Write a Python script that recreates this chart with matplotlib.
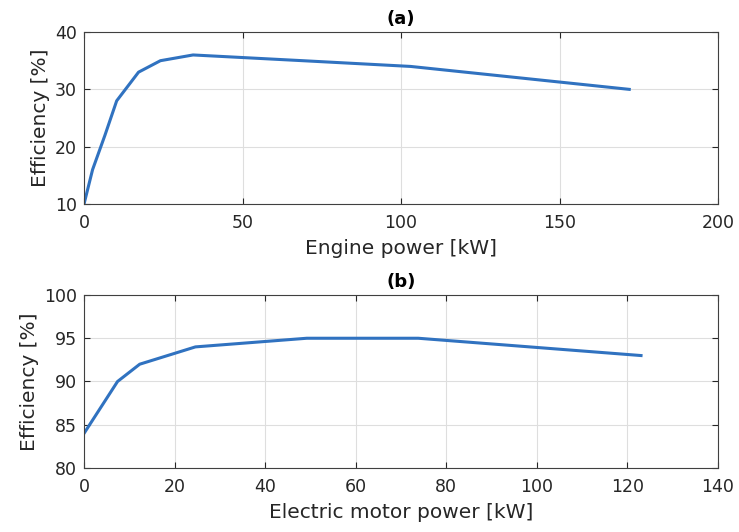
import matplotlib
matplotlib.use("Agg")
import matplotlib.pyplot as plt

# Data
engine_power = [0, 2.7, 6.6, 10.3, 17.2, 24.1, 34.4, 69, 103, 172]
engine_eff = [10, 16, 22, 28, 33, 35, 36, 35, 34, 30]

motor_power = [0, 7.4, 12.3, 24.6, 49.2, 73.8, 123]
motor_eff = [84, 90, 92, 94, 95, 95, 93]

plt.rcParams['font.family'] = ['DejaVu Sans']

fig = plt.figure(figsize=(7.39, 5.32), dpi=100)
ax1 = fig.add_axes([0.1137, 0.6165, 0.8579, 0.3233])
ax2 = fig.add_axes([0.1137, 0.1203, 0.8579, 0.3252])

blue = '#3072C0'
txt = '#262626'

def style(ax):
    ax.grid(True, color='#dedede', linewidth=0.8)
    ax.set_axisbelow(True)
    ax.tick_params(direction='in', top=True, right=True, labelsize=12.5,
                   colors=txt, length=4)
    ax.tick_params(axis='x', pad=7)
    ax.tick_params(axis='y', pad=5)
    for s in ax.spines.values():
        s.set_color('#404040')
        s.set_linewidth(0.8)

ax1.plot(engine_power, engine_eff, color=blue, linewidth=2.2)
ax1.set_xlim(0, 200)
ax1.set_ylim(10, 40)
ax1.set_xticks([0, 50, 100, 150, 200])
ax1.set_yticks([10, 20, 30, 40])
ax1.set_xlabel('Engine power [kW]', fontsize=14.5, color=txt, labelpad=5)
ax1.set_ylabel('Efficiency [%]', fontsize=14.5, color=txt, labelpad=4)
ax1.set_title('(a)', fontsize=13, fontweight='bold', pad=6)
style(ax1)

ax2.plot(motor_power, motor_eff, color=blue, linewidth=2.2)
ax2.set_xlim(0, 140)
ax2.set_ylim(80, 100)
ax2.set_xticks([0, 20, 40, 60, 80, 100, 120, 140])
ax2.set_yticks([80, 85, 90, 95, 100])
ax2.set_xlabel('Electric motor power [kW]', fontsize=14.5, color=txt, labelpad=5)
ax2.set_ylabel('Efficiency [%]', fontsize=14.5, color=txt, labelpad=4)
ax2.set_title('(b)', fontsize=13, fontweight='bold', pad=6)
style(ax2)

fig.savefig('out.png', dpi=100)
